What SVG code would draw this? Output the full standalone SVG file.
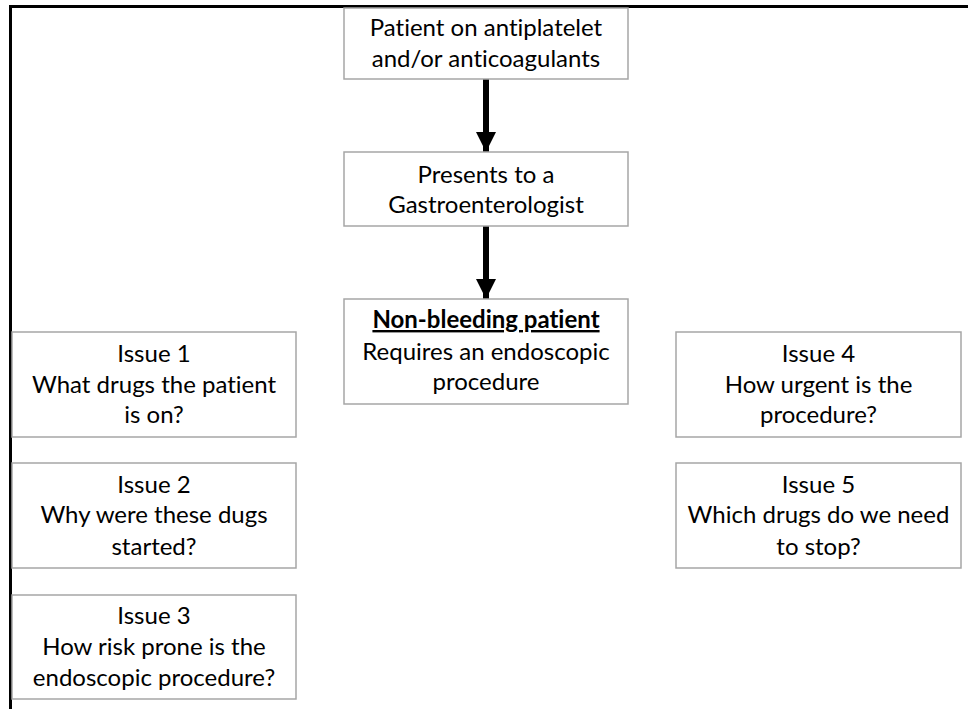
<svg xmlns="http://www.w3.org/2000/svg" width="968" height="709" viewBox="0 0 968 709">
<style>
.box{fill:#ffffff;stroke:#a6a6a6;stroke-width:1.5}
.t{font-family:Lato,"Open Sans","Liberation Sans",sans-serif;font-size:24px;fill:#000;text-anchor:middle;font-variant-ligatures:none}
.b{font-weight:bold;text-decoration:underline}
.frame{stroke:#000;stroke-width:3;fill:none}
.shaft{stroke:#000;stroke-width:6;fill:none}
</style>
<defs>
<marker id="ah" markerUnits="userSpaceOnUse" markerWidth="20" markerHeight="20" refX="20" refY="10" orient="auto" viewBox="0 0 20 20">
<path d="M0,0 L20,10 L0,20 Z" fill="#000"/>
</marker>
</defs>
<rect width="968" height="709" fill="#ffffff"/>
<path class="frame" d="M10.5,709 V6.5 H968"/>
<g id="connectors">
<line class="shaft" x1="486" y1="79" x2="486" y2="152" marker-end="url(#ah)"/>
<line class="shaft" x1="486" y1="226" x2="486" y2="299" marker-end="url(#ah)"/>
</g>
<g id="n-patient">
<rect class="box" x="344" y="8" width="284" height="71"/>
<text class="t" x="486" y="36">Patient on antiplatelet</text>
<text class="t" x="486" y="67">and/or anticoagulants</text>
</g>
<g id="n-presents">
<rect class="box" x="344" y="152" width="284" height="74"/>
<text class="t" x="486" y="183">Presents to a</text>
<text class="t" x="486" y="213">Gastroenterologist</text>
</g>
<g id="n-nonbleeding">
<rect class="box" x="344" y="299" width="284" height="105"/>
<text class="t b" x="486" y="328">Non-bleeding patient</text>
<text class="t" x="486" y="360">Requires an endoscopic</text>
<text class="t" x="486" y="390">procedure</text>
</g>
<g id="n-issue1">
<rect class="box" x="12" y="332" width="284" height="105"/>
<text class="t" x="154" y="362">Issue 1</text>
<text class="t" x="154" y="393">What drugs the patient</text>
<text class="t" x="154" y="423">is on?</text>
</g>
<g id="n-issue2">
<rect class="box" x="12" y="463" width="284" height="105"/>
<text class="t" x="154" y="493">Issue 2</text>
<text class="t" x="154" y="523">Why were these dugs</text>
<text class="t" x="154" y="555">started?</text>
</g>
<g id="n-issue3">
<rect class="box" x="12" y="595" width="284" height="104"/>
<text class="t" x="154" y="624">Issue 3</text>
<text class="t" x="154" y="655">How risk prone is the</text>
<text class="t" x="154" y="686">endoscopic procedure?</text>
</g>
<g id="n-issue4">
<rect class="box" x="676" y="332" width="285" height="105"/>
<text class="t" x="818.5" y="362">Issue 4</text>
<text class="t" x="818.5" y="393">How urgent is the</text>
<text class="t" x="818.5" y="423">procedure?</text>
</g>
<g id="n-issue5">
<rect class="box" x="676" y="463" width="285" height="105"/>
<text class="t" x="818.5" y="493">Issue 5</text>
<text class="t" x="818.5" y="523">Which drugs do we need</text>
<text class="t" x="818.5" y="555">to stop?</text>
</g>
</svg>
